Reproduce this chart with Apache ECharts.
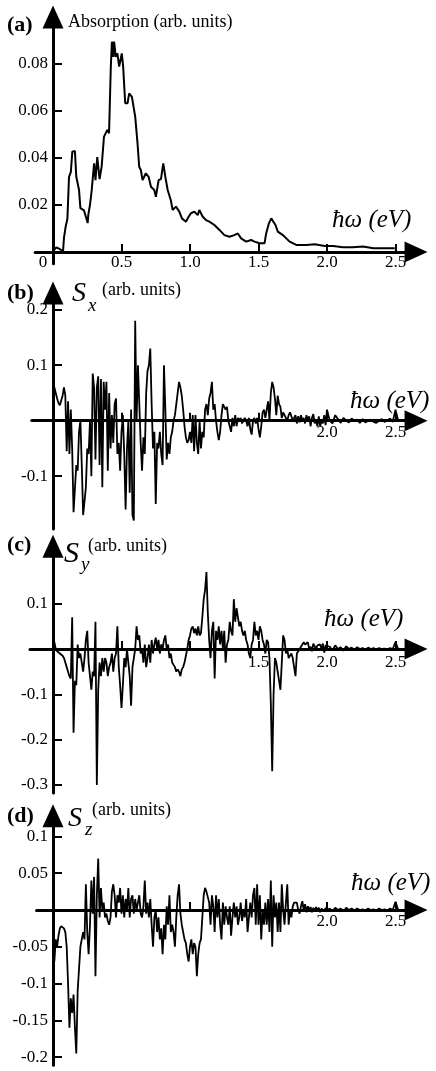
<!DOCTYPE html>
<html>
<head>
<meta charset="utf-8">
<script src="https://cdn.jsdelivr.net/npm/echarts@6/dist/echarts.min.js"></script>
<style>
html,body{margin:0;padding:0;background:#fff;}
#chart{width:436px;height:1071px;}
</style>
</head>
<body>
<div id="chart"></div>
<script>
// ---------- data ----------
// (a) absorption: energy (eV) and value
const absX = [0.0,0.01,0.024,0.04,0.056,0.073,0.08,0.093,0.105,0.117,0.13,0.141,0.16,0.17,0.19,0.2,0.226,0.24,0.253,0.258,0.27,0.282,0.3,0.31,0.323,0.34,0.355,0.372,0.396,0.409,0.422,0.43,0.44,0.446,0.458,0.47,0.483,0.502,0.512,0.527,0.544,0.556,0.576,0.6,0.617,0.629,0.641,0.654,0.678,0.698,0.715,0.739,0.751,0.771,0.788,0.805,0.82,0.837,0.86,0.873,0.898,0.922,0.941,0.97,0.99,1.007,1.032,1.056,1.068,1.093,1.117,1.141,1.178,1.215,1.251,1.288,1.324,1.349,1.373,1.41,1.446,1.471,1.507,1.544,1.556,1.576,1.593,1.605,1.624,1.641,1.678,1.727,1.776,1.85,1.91,1.983,2.044,2.117,2.19,2.263,2.337,2.41,2.495];
const absY = [0.0,0.001,0.002,0.0015,0.001,0.0,0.006,0.011,0.014,0.032,0.034,0.0427,0.043,0.032,0.0264,0.0187,0.0177,0.015,0.0123,0.016,0.02,0.026,0.0377,0.0306,0.0404,0.031,0.0363,0.049,0.052,0.0505,0.0789,0.0895,0.083,0.0895,0.083,0.0845,0.0789,0.0845,0.079,0.0633,0.0633,0.0675,0.066,0.0576,0.0462,0.0363,0.0349,0.0306,0.0335,0.032,0.0278,0.0264,0.0235,0.0306,0.031,0.0377,0.032,0.0264,0.022,0.0179,0.0193,0.0172,0.0143,0.0129,0.015,0.0165,0.0172,0.0157,0.0179,0.015,0.0136,0.0129,0.0115,0.0094,0.0072,0.0065,0.0072,0.0079,0.0058,0.0044,0.0051,0.0044,0.0037,0.0037,0.0079,0.0122,0.0143,0.015,0.0115,0.0087,0.0072,0.0044,0.003,0.003,0.0033,0.0026,0.0026,0.002,0.002,0.0023,0.0016,0.0016,0.0016];

// (b)-(d): values every 0.01 eV from 0 to 2.00, then every 0.02 eV from 2.02 to 2.52
const STEP = 0.01, TAIL_START = 2.02, TAIL_STEP = 0.02;
const sxMain = [
0.07,0.06,0.05,0.04,0.032,0.028,0.03,0.045,0.06,0.045,
-0.055,0.035,-0.06,0.02,-0.05,-0.165,-0.165,-0.08,-0.09,-0.02,
0.0,-0.08,-0.17,-0.17,-0.12,-0.05,-0.06,0.0,-0.1,0.085,
0.06,-0.07,0.06,0.08,-0.08,0.075,-0.12,0.07,0.02,0.07,
-0.09,0.05,-0.05,0.01,-0.04,0.03,0.04,-0.06,-0.04,-0.09,
-0.02,0.01,-0.06,-0.16,-0.05,0.0,-0.13,0.02,-0.17,-0.18,
0.18,0.0,0.1,0.1,-0.04,-0.09,-0.03,-0.06,0.05,0.09,
0.1,0.13,0.03,-0.05,-0.02,-0.15,-0.04,-0.05,-0.02,-0.06,
-0.08,0.1,0.02,-0.07,-0.04,-0.06,-0.03,-0.02,0.0,0.01,
0.03,0.05,0.07,0.06,0.045,0.02,-0.01,-0.03,-0.04,-0.035,
-0.02,-0.04,0.01,-0.055,0.01,-0.04,-0.06,0.0,-0.05,-0.02,
-0.03,0.02,0.03,0.01,0.04,0.05,0.07,0.02,0.03,0.0,
-0.02,-0.035,-0.02,0.01,0.03,0.03,0.02,0.025,0.0,-0.01,
-0.02,0.005,-0.01,0.01,-0.01,0.005,0.0,0.005,-0.005,0.0,
0.005,0.0,-0.01,0.005,-0.015,-0.025,0.0,0.005,-0.005,0.005,
-0.015,-0.03,-0.01,0.015,0.02,0.005,0.02,0.035,0.0,0.05,
0.07,0.06,0.04,0.01,0.045,0.03,0.025,0.005,0.015,0.01,
0.005,0.0,0.01,0.015,0.008,0.0,0.005,0.01,-0.005,0.008,
-0.003,0.01,0.0,0.005,-0.005,0.01,0.0,0.008,-0.01,0.005,
0.012,-0.005,0.0,-0.01,0.008,-0.01,0.0,-0.005,0.01,-0.008,
0.02];
const sxTail = [0.0,-0.005,0.01,0.003,-0.004,0.005,0.0,-0.003,0.004,0.0,0.002,-0.004,0.003,-0.003,0.0,0.002,-0.002,-0.004,0.0,0.003,-0.002,0.0,0.004,-0.002,0.02,0.0];

const syMain = [
0.01,0.015,0.0,-0.005,-0.008,-0.01,-0.01,-0.015,-0.02,-0.03,
-0.04,-0.05,-0.06,-0.065,0.07,-0.185,-0.07,-0.08,0.01,-0.02,
-0.01,-0.03,-0.05,-0.02,0.02,0.04,-0.03,-0.06,-0.09,-0.05,
-0.06,0.06,-0.3,-0.09,-0.03,-0.06,-0.02,-0.05,-0.02,-0.03,
-0.06,-0.04,-0.03,-0.01,-0.05,-0.02,-0.01,0.05,-0.04,-0.08,
-0.13,-0.08,-0.02,-0.04,0.0,-0.03,-0.06,-0.125,-0.04,-0.02,
0.0,0.05,0.02,0.03,-0.01,0.0,-0.03,0.01,-0.04,-0.02,
0.01,-0.03,0.02,-0.01,0.01,0.025,0.0,0.02,-0.01,0.01,
0.0,0.02,0.03,0.0,0.01,-0.02,-0.01,-0.03,-0.035,-0.04,
-0.05,-0.045,-0.05,-0.06,-0.045,-0.04,-0.03,-0.015,0.0,0.02,
0.03,0.045,0.05,0.035,0.045,0.03,0.05,0.03,0.035,0.07,
0.11,0.13,0.17,0.08,0.02,-0.02,0.04,0.06,-0.065,0.04,
0.02,0.05,0.01,0.04,0.0,0.04,-0.03,0.01,0.02,0.06,
0.04,0.03,0.11,0.06,0.09,0.07,0.05,0.06,0.04,0.03,
0.04,0.02,0.01,-0.01,-0.02,0.01,0.02,0.06,0.03,0.04,
0.02,0.05,0.04,0.02,0.01,-0.01,0.02,0.015,-0.02,-0.12,
-0.27,-0.1,-0.02,-0.03,-0.05,-0.07,-0.09,-0.03,0.03,0.02,
-0.01,0.0,-0.02,-0.015,-0.01,-0.02,-0.04,-0.06,-0.01,-0.005,
0.0,0.005,0.01,0.015,0.01,0.01,0.015,0.0,0.005,-0.005,
0.012,0.01,0.0,0.008,0.005,0.01,0.0,0.012,-0.008,0.008,
0.005];
const syTail = [0.005,-0.003,0.008,0.0,0.004,-0.004,0.006,0.0,0.003,-0.002,0.004,0.0,0.002,-0.002,0.003,0.0,0.002,-0.001,0.002,0.0,0.001,-0.001,0.002,0.0,0.015,0.0];

const szMain = [
0.09,-0.07,-0.04,-0.05,-0.035,-0.025,-0.022,-0.022,-0.025,-0.03,
-0.05,-0.1,-0.16,-0.12,-0.14,-0.115,-0.16,-0.195,-0.11,-0.08,
-0.05,-0.04,-0.03,-0.04,0.035,-0.03,-0.06,-0.02,0.04,-0.005,
0.045,-0.09,0.02,0.07,-0.01,0.03,0.0,0.01,-0.01,-0.005,
-0.015,-0.02,-0.01,0.025,0.035,0.02,-0.01,0.02,0.01,0.03,
-0.005,0.02,-0.01,0.015,0.0,0.03,-0.01,0.015,0.02,-0.005,
0.015,0.0,0.01,0.02,-0.005,-0.01,0.005,0.04,-0.005,0.01,
-0.01,0.015,-0.02,-0.05,-0.01,0.0,-0.03,-0.01,-0.04,-0.025,
-0.06,-0.02,-0.04,0.005,-0.02,0.02,-0.03,-0.02,-0.03,-0.05,
-0.01,0.02,0.035,-0.005,-0.02,-0.03,-0.04,-0.045,-0.06,-0.07,
-0.05,-0.04,-0.06,-0.045,-0.05,-0.09,-0.06,-0.045,-0.04,-0.01,
0.02,0.03,0.025,0.025,0.01,-0.02,0.02,0.005,-0.03,0.02,
-0.01,0.015,-0.02,-0.04,0.01,-0.02,0.005,-0.01,-0.02,0.005,
-0.035,-0.01,0.01,-0.01,0.005,-0.02,-0.01,0.01,-0.015,0.0,
-0.01,0.015,-0.03,-0.01,0.01,-0.01,0.02,0.03,-0.02,0.035,
-0.02,0.02,-0.04,0.0,-0.02,0.01,-0.02,0.015,-0.03,0.04,
-0.05,0.02,-0.01,0.01,-0.03,0.01,-0.03,0.035,0.0,-0.02,
0.01,0.035,-0.02,0.0,-0.01,0.005,0.01,0.012,0.01,0.0,
-0.005,0.005,0.012,0.0,0.008,-0.003,0.005,0.0,0.004,-0.003,
0.003,-0.002,0.004,0.0,0.003,-0.003,0.002,0.004,-0.002,0.003,
0.0];
const szTail = [0.002,-0.002,0.003,0.0,0.002,-0.002,0.003,0.0,0.002,-0.001,0.002,0.0,0.001,-0.001,0.002,0.0,0.001,-0.001,0.002,0.0,0.001,-0.001,0.002,0.0,0.011,0.0];

// tick / label values
const xTickVals = [0.5, 1.0, 1.5, 2.0, 2.5];
const xLabA = [0, 0.5, 1.0, 1.5, 2.0, 2.5];
const xLabB = [2.0, 2.5];
const xLabC = [1.5, 2.0, 2.5];
const xLabD = [2.0, 2.5];
const yTickA = [0.02, 0.04, 0.06, 0.08];
const yTickB = [0.2, 0.1, -0.1];
const yTickC = [0.1, -0.1, -0.2, -0.3];
const yTickD = [0.1, 0.05, -0.05, -0.1, -0.15, -0.2];

// ---------- build ----------
const FONT = '"Liberation Serif", "Times New Roman", serif';
const TICK_FS = 17;
function pairs(main, tail) {
  const out = main.map((v, i) => [+(i * STEP).toFixed(2), v]);
  tail.forEach((v, i) => out.push([+(TAIL_START + i * TAIL_STEP).toFixed(2), v]));
  return out;
}
const absData = absX.map((x, i) => [x, absY[i]]);

const X0 = 53, KX = 137, XMAX = 2.65;
const panels = [
  {y0: 252,   ky: 2350,  ymin: -0.005, ymax: 0.1,   xmin: -0.13,  xl: xLabA, yt: yTickA, yfmt: v => v.toFixed(2), data: absData, lw: 2, xm: 2},
  {y0: 420.7, ky: 555,   ymin: -0.195, ymax: 0.23,  xmin: -0.155, xl: xLabB, yt: yTickB, yfmt: v => String(v), data: pairs(sxMain, sxTail), lw: 1.8, xm: 3},
  {y0: 649,   ky: 453,   ymin: -0.318, ymax: 0.227, xmin: -0.168, xl: xLabC, yt: yTickC, yfmt: v => String(v), data: pairs(syMain, syTail), lw: 1.8, xm: 5},
  {y0: 910,   ky: 735.6, ymin: -0.211, ymax: 0.128, xmin: -0.12,  xl: xLabD, yt: yTickD, yfmt: v => String(v), data: pairs(szMain, szTail), lw: 1.8, xm: 3}
];

const axisLine = {onZero: true, symbol: ['none', 'triangle'], symbolSize: [21, 23], lineStyle: {color: '#000', width: 3}};
const grid = [], xAxis = [], yAxis = [], series = [];
panels.forEach((p, i) => {
  grid.push({left: X0 + p.xmin * KX, width: (XMAX - p.xmin) * KX, top: p.y0 - p.ymax * p.ky, height: (p.ymax - p.ymin) * p.ky, containLabel: false, outerBoundsMode: 'none'});
  // labels are laid out from the grid edge, so shift them onto the zero lines
  const xLabelMargin = p.xm + p.ymin * p.ky;
  const yLabelMargin = 5 + p.xmin * KX;
  xAxis.push({
    gridIndex: i, type: 'value', min: p.xmin, max: XMAX,
    axisLine: axisLine,
    axisTick: {show: true, inside: true, length: 8, customValues: xTickVals, lineStyle: {color: '#000', width: 2}},
    axisLabel: {customValues: p.xl, margin: xLabelMargin, color: '#000', fontFamily: FONT, fontSize: TICK_FS,
      formatter: v => v === 0 ? '{z|0}' : v.toFixed(1),
      rich: {z: {padding: [0, 20, 0, 0], color: '#000', fontFamily: FONT, fontSize: TICK_FS}}},
    splitLine: {show: false}
  });
  yAxis.push({
    gridIndex: i, type: 'value', min: p.ymin, max: p.ymax,
    axisLine: axisLine,
    axisTick: {show: true, inside: true, length: 9, customValues: p.yt, lineStyle: {color: '#000', width: 2}},
    axisLabel: {customValues: p.yt, margin: yLabelMargin, color: '#000', fontFamily: FONT, fontSize: TICK_FS, formatter: p.yfmt},
    splitLine: {show: false}
  });
  series.push({type: 'line', xAxisIndex: i, yAxisIndex: i, data: p.data, showSymbol: false, symbol: 'none',
    lineStyle: {color: '#000', width: p.lw}, z: 1, silent: true});
});

function txt(text, left, top, font) {
  return {type: 'text', left: left, top: top, z: 100, style: {text: text, font: font, fill: '#000'}};
}
const graphic = [
  txt('(a)', 7, 14, 'bold 22px ' + FONT),
  txt('Absorption (arb. units)', 68, 13, '18px ' + FONT),
  txt('ħω (eV)', 332, 208, 'italic 25px ' + FONT),
  txt('(b)', 7, 282, 'bold 22px ' + FONT),
  txt('S', 72, 280, 'italic 28px ' + FONT),
  txt('x', 88, 296, 'italic 19px ' + FONT),
  txt('(arb. units)', 102, 281, '18px ' + FONT),
  txt('ħω (eV)', 350, 389, 'italic 25px ' + FONT),
  txt('(c)', 7, 534, 'bold 22px ' + FONT),
  txt('S', 64, 539, 'italic 30px ' + FONT),
  txt('y', 81, 555, 'italic 19px ' + FONT),
  txt('(arb. units)', 88, 537, '18px ' + FONT),
  txt('ħω (eV)', 324, 607, 'italic 25px ' + FONT),
  txt('(d)', 7, 805, 'bold 22px ' + FONT),
  txt('S', 68, 805, 'italic 28px ' + FONT),
  txt('z', 85, 820, 'italic 19px ' + FONT),
  txt('(arb. units)', 92, 801, '18px ' + FONT),
  txt('ħω (eV)', 351, 871, 'italic 25px ' + FONT)
];

const chart = echarts.init(document.getElementById('chart'), null, {renderer: 'canvas'});
chart.setOption({
  animation: false,
  backgroundColor: '#fff',
  grid: grid, xAxis: xAxis, yAxis: yAxis, series: series, graphic: graphic
});
</script>
</body>
</html>
